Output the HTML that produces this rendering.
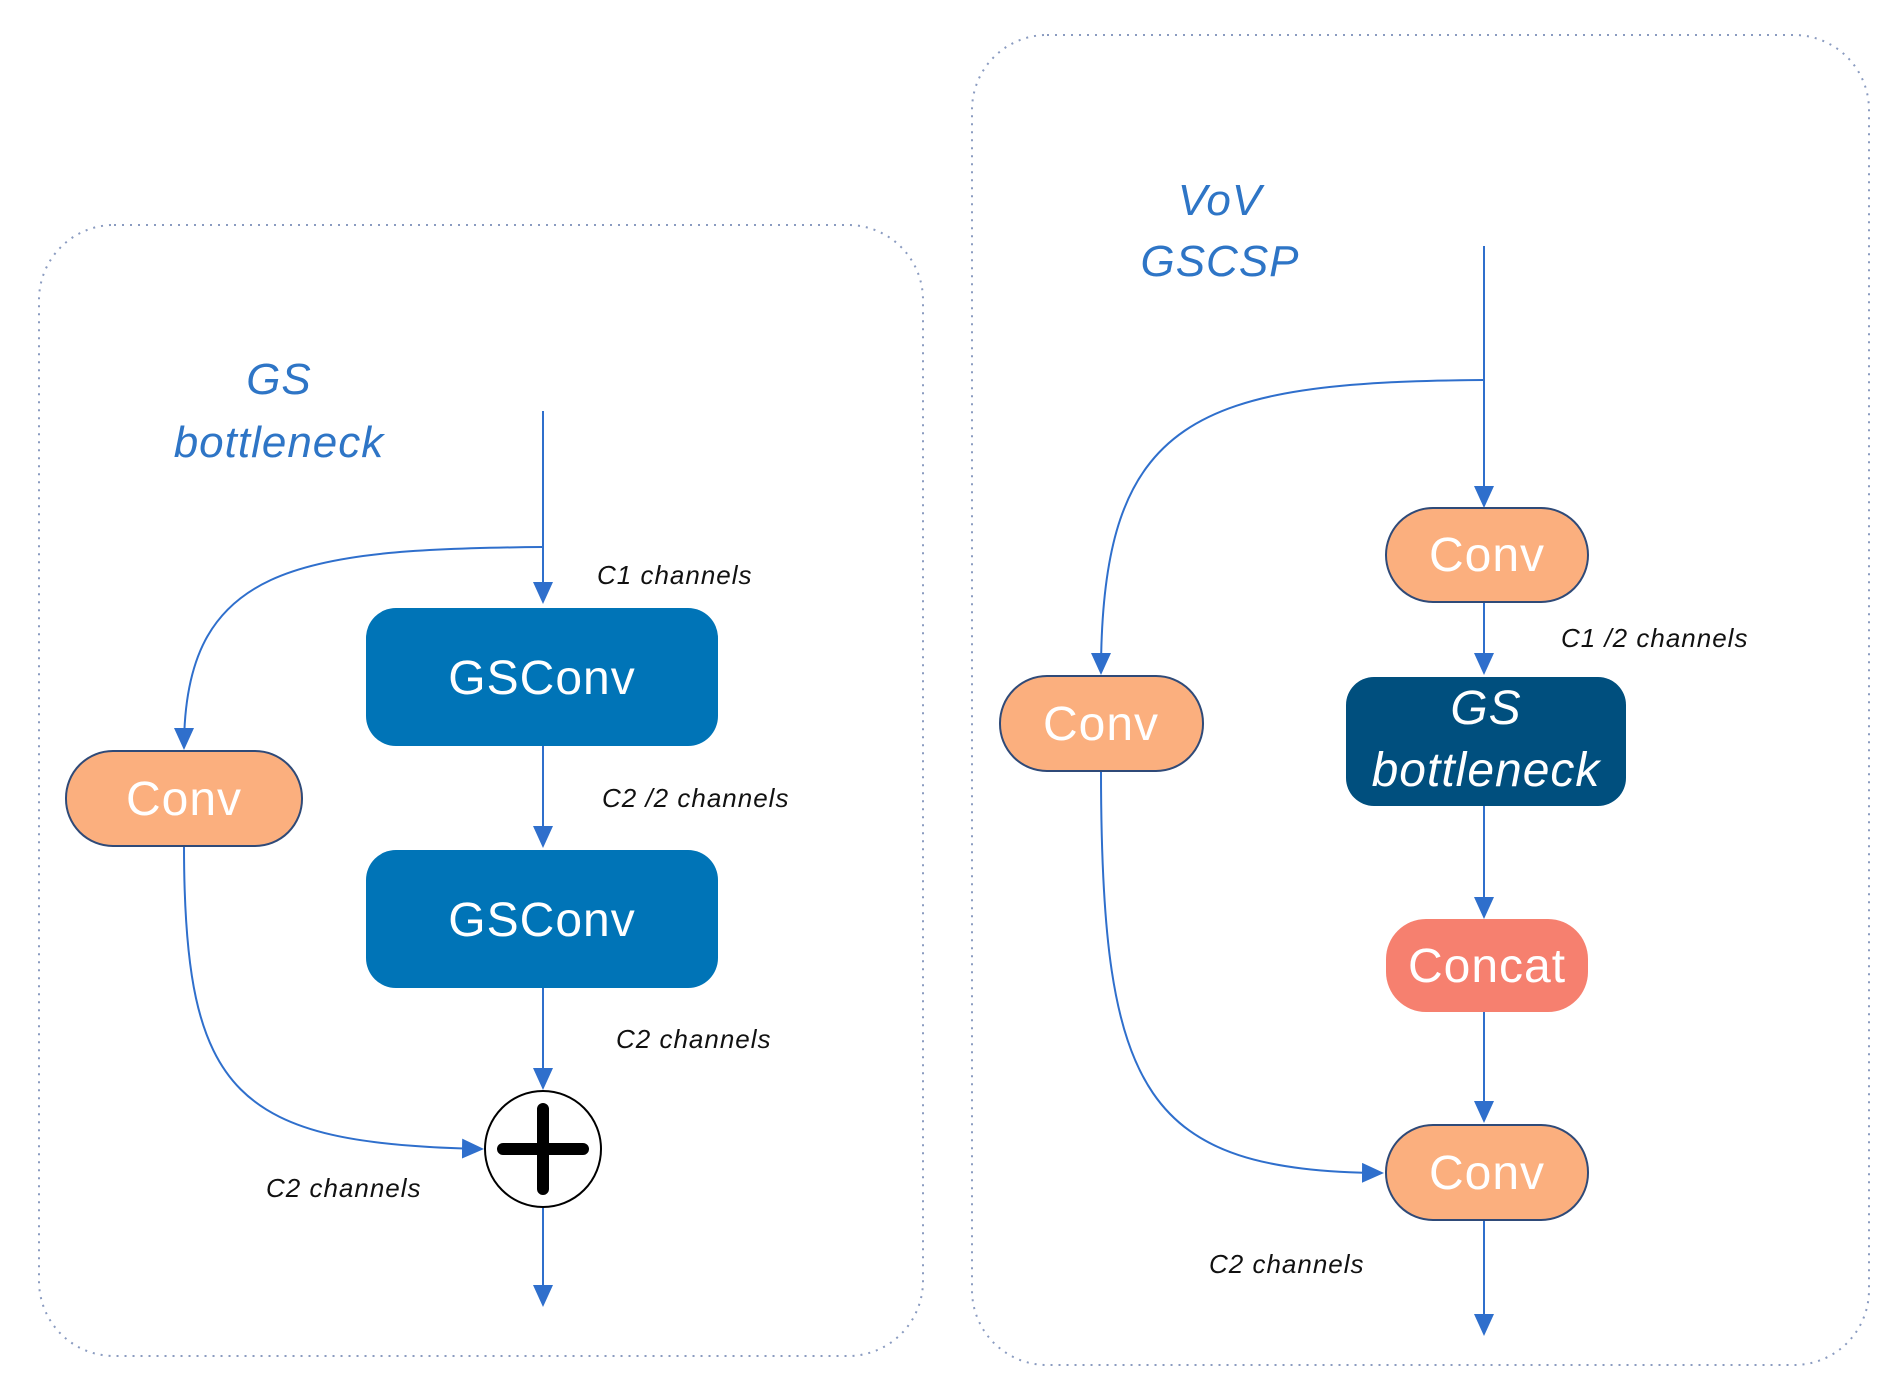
<!DOCTYPE html>
<html><head><meta charset="utf-8"><style>
body{margin:0;background:#fff;}
svg{display:block;}
text{font-family:"Liberation Sans",sans-serif;}
.lbl{font-size:26px;font-style:italic;fill:#111;letter-spacing:1px;}
.ttl{font-size:44px;font-style:italic;fill:#2E75C6;letter-spacing:1px;}
.node{font-size:48px;fill:#fff;letter-spacing:1px;}
</style></head><body>
<svg width="1903" height="1398" viewBox="0 0 1903 1398" xmlns="http://www.w3.org/2000/svg">
<defs>
<marker id="b" markerWidth="22" markerHeight="20" refX="20" refY="10" orient="auto" markerUnits="userSpaceOnUse" viewBox="0 0 22 20"><path d="M0,0 L22,10 L0,20 z" fill="#2F6FCC"/></marker></defs>
<g transform="translate(-4,-4)">
<rect x="43" y="229" width="884" height="1131" rx="75" fill="none" stroke="#8A9BC0" stroke-width="2" stroke-dasharray="2,6"/>
<rect x="976" y="39" width="897" height="1330" rx="75" fill="none" stroke="#8A9BC0" stroke-width="2" stroke-dasharray="2,6"/>
<g fill="none" stroke="#2F6FCC" stroke-width="2">
<path d="M547,415 V606" marker-end="url(#b)"/>
<path d="M547,551 C300,553 188,570 188,752" marker-end="url(#b)"/>
<path d="M547,750 V850" marker-end="url(#b)"/>
<path d="M547,992 V1092" marker-end="url(#b)"/>
<path d="M188,850 C188,1100 240,1148 486,1153" marker-end="url(#b)"/>
<path d="M547,1212 V1309" marker-end="url(#b)"/>
<path d="M1488,250 V510" marker-end="url(#b)"/>
<path d="M1488,384 C1200,386 1105,420 1105,677" marker-end="url(#b)"/>
<path d="M1488,606 V677" marker-end="url(#b)"/>
<path d="M1488,810 V921" marker-end="url(#b)"/>
<path d="M1488,1016 V1125" marker-end="url(#b)"/>
<path d="M1105,775 C1105,1100 1150,1175 1386,1177" marker-end="url(#b)"/>
<path d="M1488,1224 V1338" marker-end="url(#b)"/>
</g>
<text class="ttl" x="283" y="398" text-anchor="middle">GS</text>
<text class="ttl" x="283" y="461" text-anchor="middle">bottleneck</text>
<text class="ttl" x="1224" y="219" text-anchor="middle">VoV</text>
<text class="ttl" x="1224" y="280" text-anchor="middle">GSCSP</text>
<rect x="370" y="612" width="352" height="138" rx="30" fill="#0074B7"/>
<text class="node" x="546" y="698" text-anchor="middle">GSConv</text>
<rect x="370" y="854" width="352" height="138" rx="30" fill="#0074B7"/>
<text class="node" x="546" y="940" text-anchor="middle">GSConv</text>
<rect x="70" y="755" width="236" height="95" rx="47" fill="#FBAF7E" stroke="#2F4A78" stroke-width="2"/>
<text class="node" x="188" y="819" text-anchor="middle">Conv</text>
<circle cx="547" cy="1153" r="58" fill="#fff" stroke="#000" stroke-width="2"/>
<path d="M507,1153 H587 M547,1113 V1193" stroke="#000" stroke-width="12" stroke-linecap="round"/>
<text class="lbl" x="601" y="588">C1 channels</text>
<text class="lbl" x="606" y="811">C2 /2 channels</text>
<text class="lbl" x="620" y="1052">C2 channels</text>
<text class="lbl" x="270" y="1201">C2 channels</text>
<rect x="1390" y="512" width="202" height="94" rx="47" fill="#FBAF7E" stroke="#2F4A78" stroke-width="2"/>
<text class="node" x="1491" y="575" text-anchor="middle">Conv</text>
<rect x="1350" y="681" width="280" height="129" rx="28" fill="#004F7E"/>
<text class="node" x="1490" y="728" text-anchor="middle" font-style="italic" font-size="42">GS</text>
<text class="node" x="1490" y="790" text-anchor="middle" font-style="italic" font-size="42">bottleneck</text>
<rect x="1390" y="923" width="202" height="93" rx="40" fill="#F6806F"/>
<text class="node" x="1491" y="986" text-anchor="middle">Concat</text>
<rect x="1390" y="1129" width="202" height="95" rx="47" fill="#FBAF7E" stroke="#2F4A78" stroke-width="2"/>
<text class="node" x="1491" y="1193" text-anchor="middle">Conv</text>
<rect x="1004" y="680" width="203" height="95" rx="47" fill="#FBAF7E" stroke="#2F4A78" stroke-width="2"/>
<text class="node" x="1105" y="744" text-anchor="middle">Conv</text>
<text class="lbl" x="1565" y="651">C1 /2 channels</text>
<text class="lbl" x="1213" y="1277">C2 channels</text>
</g>
</svg>
</body></html>
